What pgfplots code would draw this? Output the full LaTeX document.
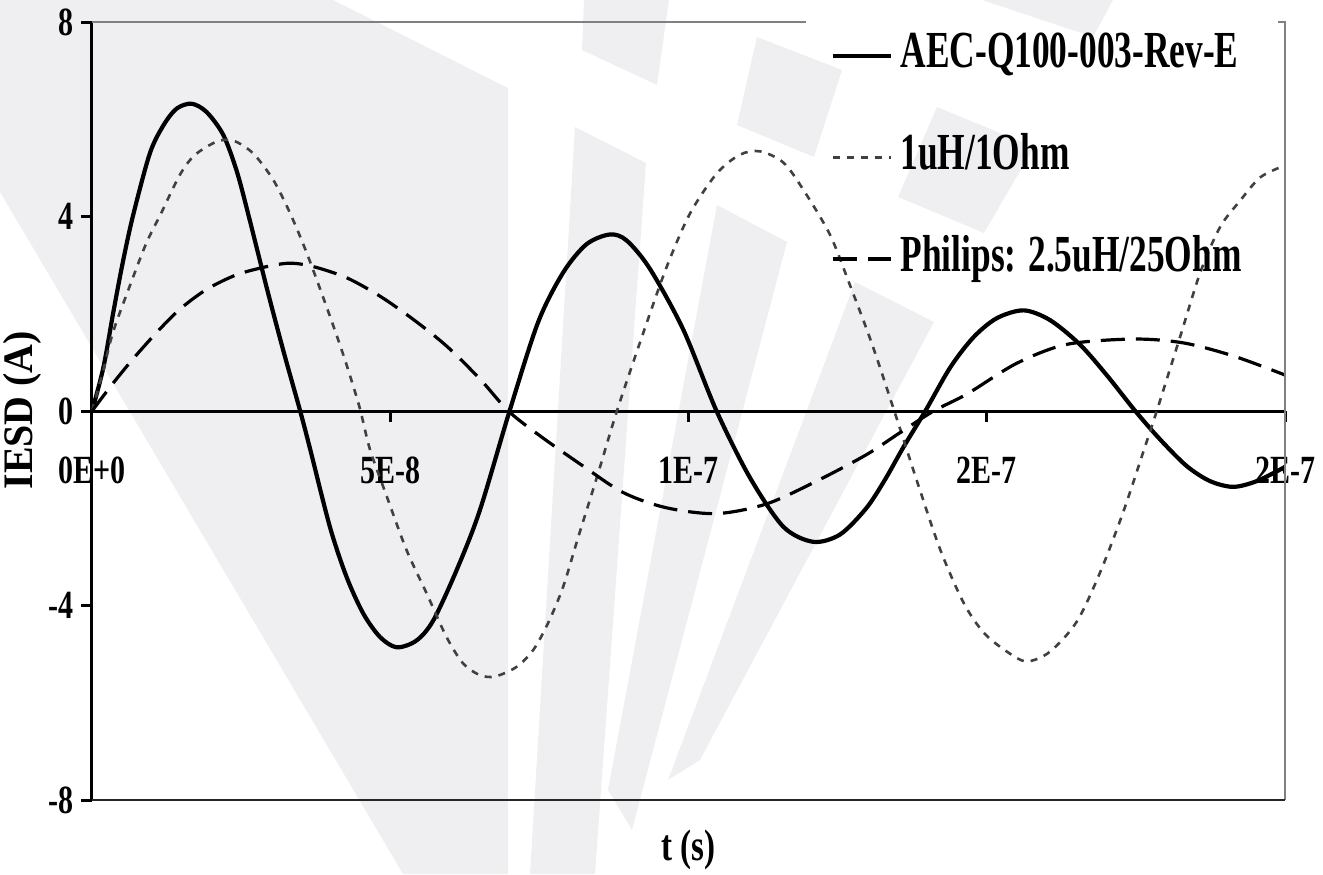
\documentclass[border=0pt]{standalone}
\usepackage{pgfplots}
\pgfplotsset{compat=1.18}
\usepackage{fontspec}
\setmainfont{Liberation Serif}[FakeStretch=0.75]
\newfontfamily\legfont{Liberation Serif}[FakeStretch=0.68]
\newfontfamily\labfont{Liberation Serif}[FakeStretch=0.95]
\definecolor{wm}{RGB}{239,239,242}
\definecolor{boxgray}{RGB}{128,128,128}
\definecolor{dotgray}{RGB}{64,64,64}
\begin{document}
\begin{tikzpicture}
\useasboundingbox (0,0) rectangle (661.5pt,437pt);
% background watermark (pixel coordinates, y downward)
\begin{scope}[x=0.5pt,y=-0.5pt,yshift=437pt]
\fill[wm] (0,0) -- (333,0) -- (508,88) -- (508,874) -- (403,874) -- (0,192) -- cycle;
\fill[wm] (575,127) -- (646,163) -- (595,874) -- (530,874) -- cycle;
\fill[wm] (717,205) -- (787,242) -- (632,830) -- (608,790) -- cycle;
\fill[wm] (855,282) -- (934,322) -- (700,760) -- (668,780) -- cycle;
\fill[wm] (584,0) -- (669,0) -- (657,85) -- (582,50) -- cycle;
\fill[wm] (757,37) -- (842,70) -- (814,157) -- (737,125) -- cycle;
\fill[wm] (937,107) -- (1034,147) -- (984,233) -- (898,197) -- cycle;
\fill[wm] (982,0) -- (1113,0) -- (1093,37) -- cycle;
\end{scope}
\begin{axis}[
  at={(46pt,37pt)}, anchor=south west,
  scale only axis, width=596.5pt, height=389pt,
  xmin=0, xmax=200, ymin=-8, ymax=8,
  axis x line=middle, axis y line=left,
  axis line style={-, line width=1.5pt, black},
  hide obscured x ticks=false, hide obscured y ticks=false,
  xtick={0,50,100,150,200}, xticklabels={0E+0,5E-8,1E-7,2E-7,2E-7},
  ytick={-8,-4,0,4,8}, yticklabels={-8,-4,0,4,8},
  tick align=outside, major tick length=5.5pt,
  tick style={line width=1.5pt, black},
  ticklabel style={font=\fontsize{20}{22}\selectfont\bfseries},
  xticklabel shift=14pt,
  xlabel={t (s)}, ylabel={IESD (A)},
  every axis x label/.style={at={(axis description cs:0.4996,-0.0643)}, anchor=center, font=\fontsize{22}{24}\selectfont\bfseries},
  every axis y label/.style={at={(axis description cs:-0.0587,0.501)}, anchor=center, rotate=90, font=\labfont\fontsize{21}{23}\selectfont\bfseries},
  clip=false,
  legend style={at={(axis description cs:0.6186,0.960)}, anchor=north west, draw=none, fill=none, inner sep=0pt,
    row sep=41.6pt, column sep=4pt, font=\legfont\fontsize{26}{28}\selectfont\bfseries,
    nodes={inner sep=0pt, text height=0.72em, text depth=0.2em}},
  legend cell align=left,
  legend image code/.code={\draw[#1] (0pt,3.5pt) -- (29pt,3.5pt);},
]
\addplot[black, line width=2.1pt, smooth] coordinates {
(0,0) (1.9,0.89) (3.6,2.05) (5.2,3.08) (6.9,4.03) (9.7,5.30) (12.0,5.88) (14.2,6.22) (16.7,6.32) (19.2,6.15) (22.0,5.68) (24.3,4.92) (26.5,3.90) (29.3,2.53) (32.1,1.23) (34.9,0) (36.5,-0.75) (39.9,-2.39) (42.7,-3.42) (45.5,-4.17) (48.3,-4.65) (51.1,-4.86) (54.4,-4.72) (57.2,-4.31) (61.1,-3.28) (65.0,-2.05) (70.0,0) (74.8,1.83) (79.0,2.85) (82.9,3.43) (86.8,3.63) (89.6,3.51) (93.5,2.93) (99.1,1.68) (104.7,0) (110.3,-1.37) (115.9,-2.38) (120.9,-2.69) (125.4,-2.54) (129.8,-2.0) (133.0,-1.4) (136.0,-0.75) (139.7,0) (143.9,0.90) (147.8,1.52) (151.7,1.91) (156.2,2.07) (160.6,1.87) (165.6,1.37) (170.1,0.74) (174.9,0) (179.1,-0.59) (183.5,-1.13) (187.4,-1.44) (191.3,-1.56) (195.3,-1.44) (200,-1.15)
};
\addlegendentry{AEC-Q100-003-Rev-E}
\addplot[dotgray, line width=1.3pt, dash pattern=on 3.5pt off 3.5pt, smooth] coordinates {
(0,0) (1.8,0.79) (3.5,1.61) (6.3,2.56) (9.1,3.45) (11.6,4.07) (14.7,4.85) (17.2,5.26) (20.9,5.54) (23.7,5.56) (27.0,5.30) (30.4,4.75) (33.2,4.07) (36.0,3.25) (39.3,2.15) (42.2,1.13) (44.8,0.1) (46.6,-0.79) (49.4,-1.75) (52.7,-2.85) (56.1,-3.75) (59.4,-4.64) (62.2,-5.19) (65.0,-5.43) (67.6,-5.46) (71.2,-5.26) (74.0,-4.91) (76.5,-4.35) (79.0,-3.61) (81.5,-2.6) (84.8,-1.3) (88.0,0) (92.4,1.6) (96.3,2.95) (100.2,4.05) (104.7,4.88) (108.6,5.27) (112.0,5.34) (115.9,5.11) (119.2,4.56) (123.7,3.63) (127.0,2.61) (130.7,1.4) (134.5,0) (138.3,-1.44) (142.2,-2.85) (146.1,-3.94) (149.5,-4.56) (153.4,-4.95) (156.7,-5.15) (160.6,-4.95) (165.1,-4.33) (169.0,-3.32) (172.9,-2.07) (176.3,-0.82) (178.5,0) (182.4,1.52) (185.8,2.85) (189.1,3.78) (192.5,4.33) (195.8,4.80) (199.5,5.03) (200,5.05)
};
\addlegendentry{1uH/1Ohm}
\addplot[black, line width=1.6pt, dash pattern=on 12pt off 5.5pt, smooth] coordinates {
(0,0) (3.4,0.55) (6.8,1.06) (10.8,1.61) (14.7,2.09) (19.2,2.50) (24.2,2.80) (29.3,2.97) (33.2,3.04) (37.1,2.97) (42.7,2.74) (48.3,2.36) (53.9,1.88) (59.5,1.33) (65.1,0.65) (69.8,0) (75.1,-0.51) (82.3,-1.13) (89.1,-1.68) (96.3,-1.99) (104.7,-2.11) (113.1,-1.91) (121.5,-1.44) (129.8,-0.90) (135.4,-0.45) (141.1,0) (146.7,0.35) (155.0,0.98) (163.4,1.37) (174.6,1.48) (183.0,1.40) (191.4,1.13) (200,0.74)
};
\addlegendentry{Philips: 2.5uH/25Ohm}
\draw[boxgray, line width=1pt] (rel axis cs:0,1) -- (rel axis cs:0.5985,1);
\draw[boxgray, line width=1pt] (rel axis cs:0.994,1) -- (rel axis cs:1,1) -- (rel axis cs:1,0);
\draw[black!85, line width=1.2pt] (rel axis cs:0,0) -- (rel axis cs:1,0);
\end{axis}
\end{tikzpicture}
\end{document}
